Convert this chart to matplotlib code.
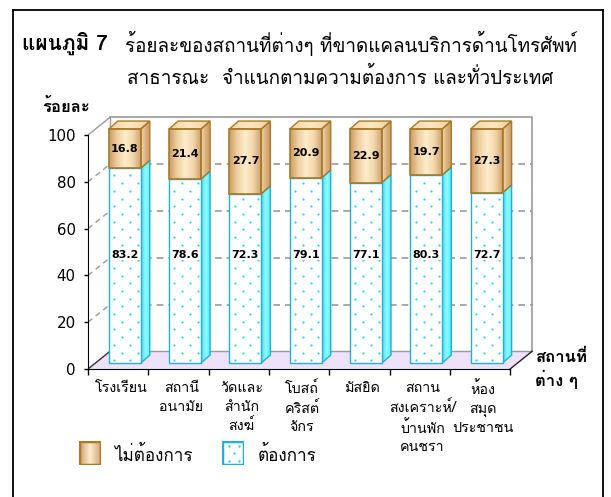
#!/usr/bin/env python3
"""
plot.py - stacked 3D-style bar chart: share of places lacking public telephone
service, by whether they want the service (whole country).
"""
import numpy as np
import matplotlib
matplotlib.use("Agg")
import matplotlib.pyplot as plt
from matplotlib import font_manager
from matplotlib.ft2font import FT2Font
from matplotlib.patches import Polygon, Rectangle
from matplotlib.colors import LinearSegmentedColormap
from matplotlib.lines import Line2D

# ---------------------------------------------------------------------------
# data
# ---------------------------------------------------------------------------
CATEGORIES = [
    "โรงเรียน",
    "สถานี\nอนามัย",
    "วัดและ\nสำนัก\nสงฆ์",
    "โบสถ์\nคริสต์\nจักร",
    "มัสยิด",
    "สถาน\nสงเคราะห์/\nบ้านพัก\nคนชรา",
    "ห้อง\nสมุด\nประชาชน",
]
WANT     = [83.2, 78.6, 72.3, 79.1, 77.1, 80.3, 72.7]   # ต้องการ
NOT_WANT = [16.8, 21.4, 27.7, 20.9, 22.9, 19.7, 27.3]   # ไม่ต้องการ
Y_TICKS  = [0, 20, 40, 60, 80, 100]

TITLE_BOLD = "แผนภูมิ 7"
TITLE_1 = "ร้อยละของสถานที่ต่างๆ ที่ขาดแคลนบริการด้านโทรศัพท์"
TITLE_2 = "สาธารณะ  จำแนกตามความต้องการ และทั่วประเทศ"
Y_LABEL = "ร้อยละ"
X_LABEL = "สถานที่\nต่าง ๆ"
LEG_NOT_WANT = "ไม่ต้องการ"
LEG_WANT = "ต้องการ"


def thai_family():
    for f in font_manager.fontManager.ttflist:
        try:
            if 0x0E2A in FT2Font(f.fname).get_charmap():
                return f.name
        except Exception:
            pass
    return "DejaVu Sans"


THAI = [thai_family(), "DejaVu Sans"]

W, H = 611, 497
fig = plt.figure(figsize=(W / 100, H / 100), dpi=100)


def fx(px):
    return px / W


def fy(py):
    return 1 - py / H


# 3D geometry (slot units in x, percent units in y)
SLOT_PX, UNIT_PX = 60.3, 2.34
DX, DY = 0.365, 7.56          # depth of walls
BX0, BW = 0.345, 0.53         # bar front left offset inside slot, bar width
BDX, BDY = 0.15, 3.4          # bar depth
BOFF_Y = 2.56                 # bar front placed a bit into depth
LOW_LABEL_Y = 48.7

TAN_EDGE = "#a87a2a"
CYAN_EDGE = "#1fb0dc"
DOT = "#2fd0f2"
GRID = "#9a9a9a"

n = len(CATEGORIES)
ax = fig.add_axes([fx(88), fy(369), 7.5 * SLOT_PX / W, 108 * UNIT_PX / H])
ax.set_xlim(0, 7.5)
ax.set_ylim(0, 108)
ax.patch.set_visible(False)
for s in ("top", "right"):
    ax.spines[s].set_visible(False)


def grad(poly_xy, colors, z):
    poly = Polygon(poly_xy, closed=True, facecolor="none", edgecolor="none", zorder=z)
    ax.add_patch(poly)
    xs = [p[0] for p in poly_xy]
    ys = [p[1] for p in poly_xy]
    cmap = LinearSegmentedColormap.from_list("g", colors)
    im = ax.imshow(np.linspace(0, 1, 128)[None, :], cmap=cmap, aspect="auto",
                   extent=(min(xs), max(xs), min(ys), max(ys)),
                   interpolation="bilinear", zorder=z)
    im.set_clip_path(poly)


def dots(x0, y0, y1):
    # sparse staggered dot texture (px spacing: 15.7 across, 7.7 between rows)
    step_y = 7.7 / UNIT_PX
    xs, ys = [], []
    k = 0
    y = y0 + 1.2
    while y < y1 - 0.8:
        offs = (5.3, 21.0) if k % 2 == 0 else (13.3, 28.7)
        for o in offs:
            xs.append(x0 + o / SLOT_PX)
            ys.append(y)
        y += step_y
        k += 1
    ax.scatter(xs, ys, s=2.5, color=DOT, linewidths=0, zorder=5)


# back wall + floor
ax.add_patch(Polygon([(0, 0), (n, 0), (n + DX, DY), (DX, DY)], closed=True,
                     facecolor="#eee2fb", edgecolor="none", zorder=1))
ax.plot([DX, n + DX, n + DX], [100 + DY, 100 + DY, DY], color=GRID, lw=1.2, zorder=1)
ax.plot([DX, DX], [DY, 100 + DY], color=GRID, lw=1.0, zorder=1)
ax.plot([DX, n + DX], [DY, DY], color=GRID, lw=1.0, zorder=1)
ax.plot([0, DX], [100, 100 + DY], color=GRID, lw=1.0, zorder=1)
ax.plot([0, DX], [0, DY], color="#333333", lw=1.0, zorder=1)
ax.plot([n, n + DX], [0, DY], color="#222222", lw=1.0, zorder=1)
for v in Y_TICKS[1:-1]:
    ax.plot([DX, n + DX], [v + DY, v + DY], color=GRID, lw=1.2, ls=(0, (4, 3)), zorder=1)
    ax.plot([0, DX], [v, v + DY], color=GRID, lw=1.0, ls=(0, (4, 3)), zorder=1)

# bars
for i, (w, nw) in enumerate(zip(WANT, NOT_WANT)):
    x0 = i + BX0
    x1 = x0 + BW
    b = BOFF_Y
    top = b + w + nw
    mid = b + w
    # want: side
    side = [(x1, b), (x1, mid), (x1 + BDX, mid + BDY), (x1 + BDX, b + BDY)]
    grad(side, ["#4fd8f0", "#8ffcff", "#4fe6f6"], 3)
    ax.add_patch(Polygon(side, closed=True, facecolor="none", edgecolor=CYAN_EDGE,
                         lw=1.0, zorder=4))
    # want: front, dotted
    ax.add_patch(Rectangle((x0, b), BW, w, facecolor="white", edgecolor=CYAN_EDGE,
                           lw=1.0, zorder=4))
    dots(x0, b, mid)
    # not want: side
    side = [(x1, mid), (x1, top), (x1 + BDX, top + BDY), (x1 + BDX, mid + BDY)]
    grad(side, ["#f4d6a8", "#d9b07c", "#c39362"], 3)
    ax.add_patch(Polygon(side, closed=True, facecolor="none", edgecolor=TAN_EDGE,
                         lw=1.0, zorder=4))
    # not want: front
    front = [(x0, mid), (x1, mid), (x1, top), (x0, top)]
    grad(front, ["#c99a68", "#efcf9e", "#fdeccb", "#f3d8ac", "#cfa273"], 3)
    ax.add_patch(Polygon(front, closed=True, facecolor="none", edgecolor=TAN_EDGE,
                         lw=1.2, zorder=4))
    # top
    topf = [(x0, top), (x1, top), (x1 + BDX, top + BDY), (x0 + BDX, top + BDY)]
    grad(topf, ["#f3d6a6", "#fde7c2", "#f0cf9c"], 3)
    ax.add_patch(Polygon(topf, closed=True, facecolor="none", edgecolor=TAN_EDGE,
                         lw=1.0, zorder=4))
    # value labels
    ax.text(x0 + BW / 2, (mid + top) / 2, f"{nw:.1f}", ha="center", va="center",
            fontsize=8, fontweight="bold", family="DejaVu Sans", zorder=6)
    ax.text(x0 + BW / 2, LOW_LABEL_Y, f"{w:.1f}", ha="center", va="center",
            fontsize=8, fontweight="bold", family="DejaVu Sans", zorder=6,
            bbox=dict(facecolor="white", edgecolor="none", pad=0.3))

ax.set_xlim(0, 7.5)
ax.set_ylim(0, 108)

# axes
ax.spines["left"].set_bounds(0, 100)
ax.spines["bottom"].set_bounds(0, n)
ax.spines["left"].set_zorder(5)
ax.spines["bottom"].set_zorder(5)
ax.set_yticks(Y_TICKS)
ax.set_yticklabels([str(v) for v in Y_TICKS], family="DejaVu Sans", fontsize=10.8)
ax.tick_params(axis="y", length=3, pad=6, width=1)
ax.set_xticks(range(n + 1))
ax.set_xticklabels([])
ax.tick_params(axis="x", length=4, width=1)
ax.set_xticks([i + 0.55 for i in range(n)], minor=True)
ax.set_xticklabels(CATEGORIES, minor=True, family=THAI, fontsize=10.3, linespacing=1.38)
ax.tick_params(axis="x", which="minor", length=0, pad=9)

# texts
fig.text(fx(22), fy(43), TITLE_BOLD, family=THAI, fontsize=15, fontweight="bold", va="center")
fig.text(fx(125), fy(43), TITLE_1, family=THAI, fontsize=13.6, va="center")
fig.text(fx(127), fy(77), TITLE_2, family=THAI, fontsize=13.6, va="center")
fig.text(fx(42), fy(106), Y_LABEL, family=THAI, fontsize=12, fontweight="bold", va="center")
fig.text(fx(535), fy(369), X_LABEL, family=THAI, fontsize=12, fontweight="bold",
         va="center", linespacing=1.25)

# frame
fig.add_artist(Line2D([fx(13), fx(13)], [fy(10), 0], color="black", lw=1.3))
fig.add_artist(Line2D([fx(13), fx(603)], [fy(10), fy(10)], color="black", lw=1.3))
fig.add_artist(Line2D([fx(603), fx(603)], [fy(10), 0], color="black", lw=1.3))

# legend swatches
sw1 = fig.add_axes([fx(79), fy(465), 22 / W, 24 / H])
sw1.imshow(np.linspace(0, 1, 64)[None, :],
           cmap=LinearSegmentedColormap.from_list("l", ["#c99a68", "#fdeccb", "#d5a877"]),
           aspect="auto", extent=(0, 1, 0, 1))
sw1.add_patch(Rectangle((0, 0), 1, 1, facecolor="none", edgecolor=TAN_EDGE, lw=2.5))
sw1.set_axis_off()
fig.text(fx(114), fy(455), LEG_NOT_WANT, family=THAI, fontsize=12.3, va="center")

sw2 = fig.add_axes([fx(222), fy(465), 22 / W, 24 / H])
sw2.add_patch(Rectangle((0, 0), 1, 1, facecolor="white", edgecolor=CYAN_EDGE, lw=2.5))
sw2.scatter([0.3, 0.75, 0.55, 0.3, 0.75], [0.8, 0.8, 0.5, 0.18, 0.18],
            s=3, color=DOT, linewidths=0)
sw2.set_xlim(0, 1)
sw2.set_ylim(0, 1)
sw2.set_axis_off()
fig.text(fx(258), fy(455), LEG_WANT, family=THAI, fontsize=12.3, va="center")

fig.savefig("out.png", dpi=100)
